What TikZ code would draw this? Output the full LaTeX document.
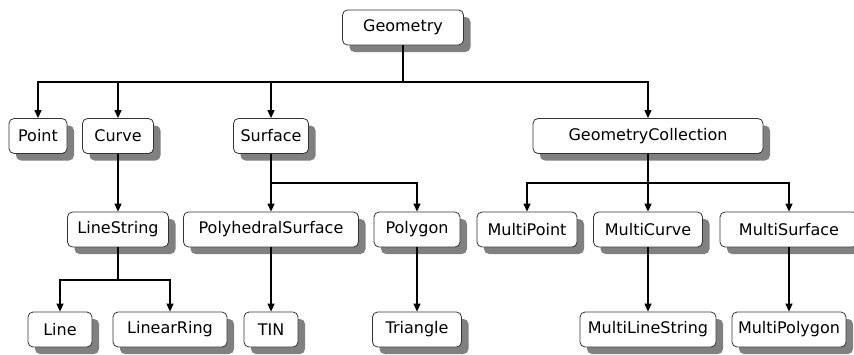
\documentclass[tikz,border=0pt]{standalone}
\usepackage{fontspec}
\setmainfont{DejaVu Sans}
\usetikzlibrary{arrows.meta,shadows}

\begin{document}
\begin{tikzpicture}[
  x=1pt, y=-1pt,
  cls/.style={rectangle, rounded corners=5pt, draw=black!80, line width=0.8pt, fill=white,
    minimum height=35pt, inner sep=0pt, font=\fontsize{16}{19}\selectfont,
    drop shadow={shadow xshift=7pt, shadow yshift=-7pt, fill=black!50, opacity=1}},
  link/.style={-{Triangle[length=8pt,width=7pt]}, line width=1.2pt}
]
  \useasboundingbox (0,0) rectangle (854,354);
  \node[cls, minimum width=121pt] (Geometry) at (403,27.5) {Geometry};
  \node[cls, minimum width=58pt] (Point) at (38,136) {Point};
  \node[cls, minimum width=71pt] (Curve) at (118,136) {Curve};
  \node[cls, minimum width=75pt] (Surface) at (271,136) {Surface};
  \node[cls, minimum width=230pt] (GeometryCollection) at (648,136) {GeometryCollection};
  \node[cls, minimum width=101pt] (LineString) at (118,229.5) {LineString};
  \node[cls, minimum width=175pt] (PolyhedralSurface) at (271,229.5) {PolyhedralSurface};
  \node[cls, minimum width=86pt] (Polygon) at (417,229.5) {Polygon};
  \node[cls, minimum width=100pt] (MultiPoint) at (527,229.5) {MultiPoint};
  \node[cls, minimum width=109pt] (MultiCurve) at (648,229.5) {MultiCurve};
  \node[cls, minimum width=138pt] (MultiSurface) at (789,229.5) {MultiSurface};
  \node[cls, minimum width=64pt] (Line) at (60,329.5) {Line};
  \node[cls, minimum width=114pt] (LinearRing) at (170,329.5) {LinearRing};
  \node[cls, minimum width=54pt] (TIN) at (271,329.5) {TIN};
  \node[cls, minimum width=89pt] (Triangle) at (417,329.5) {Triangle};
  \node[cls, minimum width=136pt] (MultiLineString) at (648,329.5) {MultiLineString};
  \node[cls, minimum width=114pt] (MultiPolygon) at (789,329.5) {MultiPolygon};

  \coordinate (bus1) at (0,82);
  \coordinate (bus2) at (0,183);
  \coordinate (bus3) at (0,280);
  \foreach \to in {Point, Curve, Surface, GeometryCollection}
    \draw[link] (Geometry) |- (bus1 -| \to) -- (\to);
  \foreach \from/\to in {Surface/PolyhedralSurface, Surface/Polygon,
      GeometryCollection/MultiPoint, GeometryCollection/MultiCurve,
      GeometryCollection/MultiSurface}
    \draw[link] (\from) |- (bus2 -| \to) -- (\to);
  \foreach \to in {Line, LinearRing}
    \draw[link] (LineString) |- (bus3 -| \to) -- (\to);
  \foreach \from/\to in {Curve/LineString, PolyhedralSurface/TIN, Polygon/Triangle,
      MultiCurve/MultiLineString, MultiSurface/MultiPolygon}
    \draw[link] (\from) -- (\to);
\end{tikzpicture}
\end{document}
